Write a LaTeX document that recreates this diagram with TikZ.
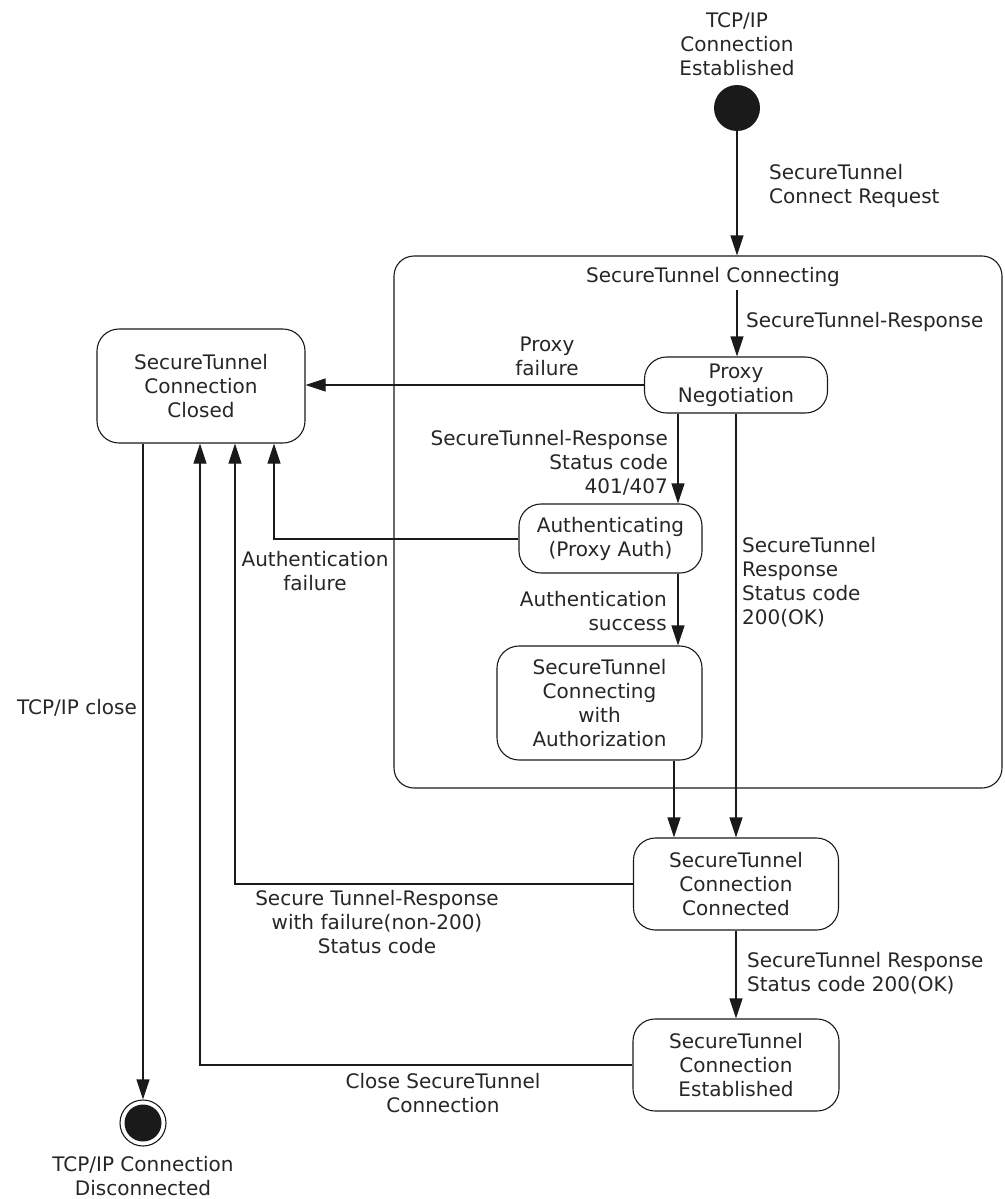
\documentclass[tikz,border=0pt]{standalone}
\usepackage{fontspec}
\setmainfont{DejaVu Sans}
\usetikzlibrary{arrows.meta}
\definecolor{txt}{HTML}{262626}
\definecolor{ln}{HTML}{1A1A1A}
\begin{document}
\begin{tikzpicture}[x=1pt,y=-1pt,
  every node/.style={font=\fontsize{20}{24}\selectfont, text=txt},
  state/.style={draw=ln, rounded corners=22pt, line width=1.1pt, align=center, inner sep=0pt},
  lbl/.style={inner sep=0pt, align=center},
  lbll/.style={inner sep=0pt, align=left},
  lblr/.style={inner sep=0pt, align=right},
  arr/.style={draw=ln, -{Triangle[length=20pt,width=13pt]}, line width=1.1pt},
  ln/.style={draw=ln, line width=1.1pt}]
\useasboundingbox (0,0) rectangle (1004,1199);

% container
\node[state, rounded corners=20pt, minimum width=608pt, minimum height=532pt] (cont) at (698,522) {};

% states
\node[state, minimum width=208pt, minimum height=114pt] (closed) at (201,386) {SecureTunnel\\Connection\\Closed};
\node[state, minimum width=183pt, minimum height=56pt] (pn) at (736,385) {Proxy\\Negotiation};
\node[state, minimum width=183pt, minimum height=69pt] (auth) at (610.5,538.5) {Authenticating\\(Proxy Auth)};
\node[state, minimum width=205pt, minimum height=114pt] (authz) at (599.5,703) {SecureTunnel\\Connecting\\with\\Authorization};
\node[state, minimum width=205pt, minimum height=92pt] (conn) at (736,884) {SecureTunnel\\Connection\\Connected};
\node[state, minimum width=206pt, minimum height=92pt] (est) at (736,1065) {SecureTunnel\\Connection\\Established};

% pseudo states
\node[circle, fill=ln, minimum size=46pt, inner sep=0pt] (init) at (737,108) {};
\node[circle, draw=ln, line width=1.1pt, minimum size=46pt, inner sep=0pt] (fin) at (143,1123) {};
\node[circle, fill=ln, minimum size=37pt, inner sep=0pt] (finin) at (143,1123) {};

% helper coordinates
\coordinate (ctitle) at (737,290);
\coordinate (x678) at (678,0);
\coordinate (x674) at (674,0);
\coordinate (x736) at (736,0);
\coordinate (x274) at (274,0);
\coordinate (x235) at (235,0);
\coordinate (x200) at (200,0);
\coordinate (x143) at (143,0);
\coordinate (y884) at (0,884);
\coordinate (y1065) at (0,1065);
\coordinate (y539) at (0,539);

% connectors
\draw[arr] (init) -- (init |- cont.north);
\draw[arr] (ctitle) -- (ctitle |- pn.north);
\draw[arr] (pn.west) -- (closed.east |- pn.west);
\draw[arr] (pn.south -| x678) -- (auth.north -| x678);
\draw[arr] (auth.south -| x678) -- (authz.north -| x678);
\draw[arr] (authz.south -| x674) -- (conn.north -| x674);
\draw[arr] (pn.south -| x736) -- (conn.north -| x736);
\draw[arr] (conn.south -| x736) -- (est.north -| x736);
\draw[arr] (auth.west |- y539) -- (x274 |- y539) -- (closed.south -| x274);
\draw[arr] (conn.west |- y884) -- (x235 |- y884) -- (closed.south -| x235);
\draw[arr] (est.west |- y1065) -- (x200 |- y1065) -- (closed.south -| x200);
\draw[arr] (closed.south -| x143) -- (fin.north);

% labels
\node[lbl] (tinit) at (737,44) {TCP/IP\\Connection\\Established};
\node[lbll, anchor=west] (tcr) at (769,186) {SecureTunnel\\Connect Request};
\node[lbl] (tcont) at (713,277) {SecureTunnel Connecting};
\node[lbll, anchor=west] (tresp) at (746,322) {SecureTunnel-Response};
\node[lbl] (tpf) at (547,356) {Proxy\\failure};
\node[lblr, anchor=east] (t401) at (668,463) {SecureTunnel-Response\\Status code\\401/407};
\node[lbl] (taf) at (315,571) {Authentication\\failure};
\node[lblr, anchor=east] (tas) at (667,611) {Authentication\\success};
\node[lbll, anchor=west] (t200) at (742,582) {SecureTunnel\\Response\\Status code\\200(OK)};
\node[lblr, anchor=east] (tclose) at (137,708) {TCP/IP close};
\node[lbl] (tfail) at (377,922) {Secure Tunnel-Response\\with failure(non-200)\\Status code};
\node[lbll, anchor=west] (tok) at (747,973) {SecureTunnel Response\\Status code 200(OK)};
\node[lbl] (tcl) at (443,1093) {Close SecureTunnel\\Connection};
\node[lbl] (tfin) at (143,1176) {TCP/IP Connection\\Disconnected};
\end{tikzpicture}
\end{document}
